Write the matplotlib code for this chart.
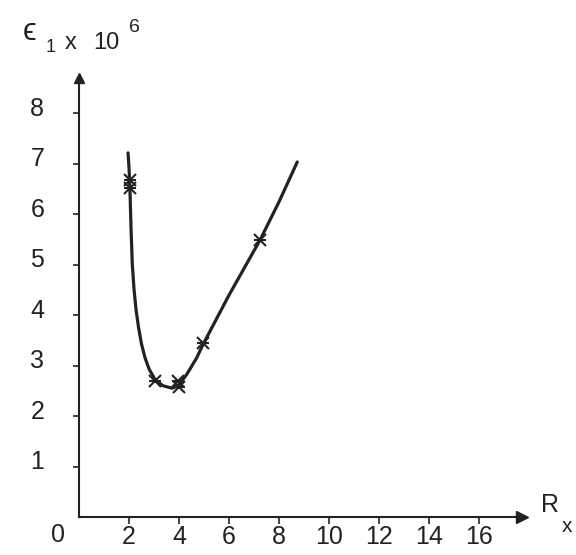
import numpy as np
import matplotlib.pyplot as plt
import matplotlib.transforms as mtrans

plt.rcParams['font.family'] = ['Liberation Sans', 'DejaVu Sans']

# hand-drawn curve
curve_r = [1.96, 2.0, 2.04, 2.08, 2.13, 2.2, 2.28, 2.38, 2.5, 2.64, 2.8, 3.04, 3.35, 3.72, 3.96, 4.3, 4.7, 4.96, 6.0, 7.24, 8.0, 8.72]
curve_e = [7.21, 6.9, 6.4, 5.7, 5.0, 4.5, 4.1, 3.75, 3.42, 3.15, 2.93, 2.72, 2.6, 2.55, 2.6, 2.82, 3.15, 3.42, 4.4, 5.49, 6.25, 7.03]

# measured points (x marks)
meas_r = [2.04, 2.04, 3.04, 3.96, 4.0, 4.96, 7.24]
meas_e = [6.67, 6.51, 2.7, 2.7, 2.58, 3.45, 5.49]

xticks = [2, 4, 6, 8, 10, 12, 14, 16]
yticks = [1, 2, 3, 4, 5, 6, 7, 8]

ink = "#222222"

fig = plt.figure(figsize=(5.76, 5.55), dpi=100)
ax = fig.add_axes([79/576, 1-517/555, (522-79)/576, (517-78)/555])

ax.plot(curve_r, curve_e, color=ink, lw=2.3, solid_joinstyle="round", solid_capstyle="round")
ax.plot(meas_r, meas_e, "x", color=ink, ms=8, mew=1.5)
ax.plot(meas_r, meas_e, "_", color=ink, ms=9, mew=1.5)

ax.set_xlim(0, 17.7)
ax.set_ylim(0, (517-78)/50.5)

for s in ["top", "right"]:
    ax.spines[s].set_visible(False)
for s in ["left", "bottom"]:
    ax.spines[s].set_color(ink)
    ax.spines[s].set_linewidth(1.5)

# arrow heads
ax.plot(1, 0, ">", color=ink, ms=8, transform=ax.get_yaxis_transform(), clip_on=False)
ax.plot(0, 1, "^", color=ink, ms=7, transform=ax.get_xaxis_transform(), clip_on=False)

ax.set_xticks(xticks)
ax.set_yticks(yticks)
ax.set_xticklabels([str(v) for v in xticks])
ax.set_yticklabels([str(v) for v in yticks])
ax.tick_params(axis="x", direction="out", length=5, width=1.2, pad=1, labelsize=18, colors=ink)
ax.tick_params(axis="y", direction="out", length=4, width=1.2, pad=21, labelsize=18, colors=ink)

# shift y tick labels up a little, like the scan
off = mtrans.ScaledTranslation(0, 5/72, fig.dpi_scale_trans)
for lab in ax.get_yticklabels():
    lab.set_transform(lab.get_transform() + off)

# the lone "0" at the origin
fig.text(58/576, 1-535/555, "0", fontsize=18, color=ink, ha="center", va="center")

# y axis title: eps_1 x 10^6
fig.text(30/576, 1-32/555, "\u03f5", fontsize=22, color=ink, ha="center", va="center")
fig.text(51/576, 1-47/555, "1", fontsize=13, color=ink, ha="center", va="center")
fig.text(71/576, 1-43/555, "x", fontsize=17, color=ink, ha="center", va="center")
fig.text(106/576, 1-43/555, "10", fontsize=17, color=ink, ha="center", va="center")
fig.text(134/576, 1-28/555, "6", fontsize=14, color=ink, ha="center", va="center")

# x axis title: R_x
fig.text(550/576, 1-505/555, "R", fontsize=18, color=ink, ha="center", va="center")
fig.text(567/576, 1-527/555, "x", fontsize=15, color=ink, ha="center", va="center")

plt.savefig("out.png", dpi=100)
